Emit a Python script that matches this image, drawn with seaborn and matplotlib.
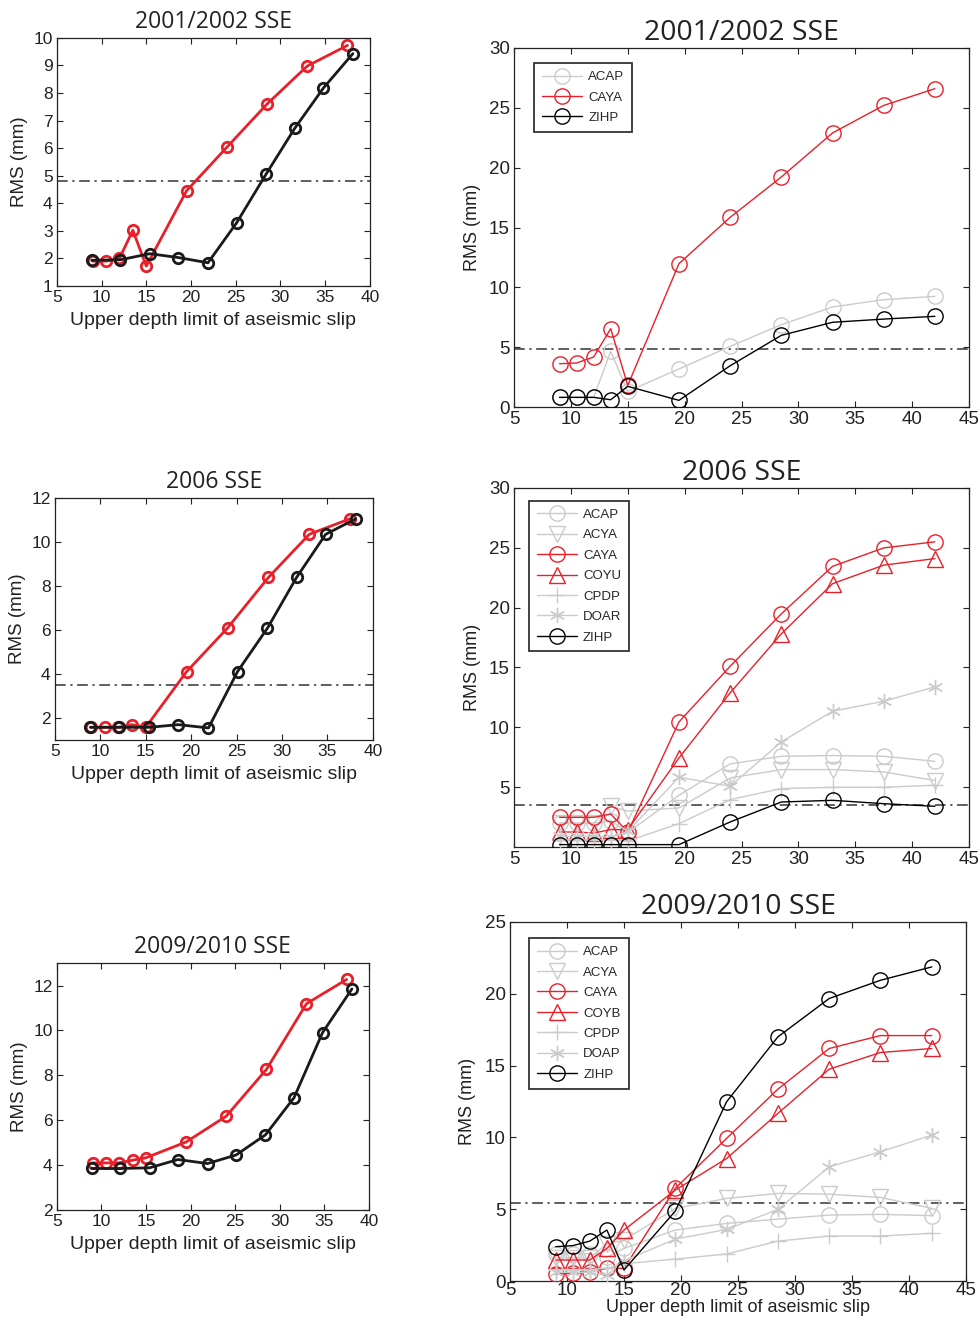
import matplotlib
matplotlib.use("Agg")
import matplotlib.pyplot as plt
import seaborn as sns

# depths (km) of the upper limit of aseismic slip
x_red = [9, 10.5, 12, 13.5, 15, 19.5, 24, 28.5, 33, 37.5]
x_black = [8.9, 12.1, 15.4, 18.6, 21.9, 25.1, 28.4, 31.6, 34.8, 38.1]
x_sta = [9, 10.5, 12, 13.5, 15, 19.5, 24, 28.5, 33, 37.5, 42]

# left column: total RMS (two slip models)
rms01_red = [1.9, 1.9, 2.0, 3.02, 1.72, 4.45, 6.03, 7.6, 8.98, 9.73]
rms01_black = [1.93, 1.95, 2.17, 2.03, 1.84, 3.29, 5.06, 6.72, 8.18, 9.43]
rms06_red = [1.58, 1.58, 1.58, 1.7, 1.58, 4.11, 6.09, 8.39, 10.35, 11.06]
rms06_black = [1.58, 1.58, 1.58, 1.7, 1.55, 4.11, 6.09, 8.39, 10.35, 11.05]
rms09_red = [4.1, 4.1, 4.1, 4.22, 4.33, 5.03, 6.18, 8.26, 11.19, 12.27]
rms09_black = [3.85, 3.85, 3.88, 4.25, 4.07, 4.45, 5.35, 7.0, 9.9, 11.85]
thr01, thr06 = 4.82, 3.5

# right column: RMS per station
sta01 = ["ACAP", "CAYA", "ZIHP"]
acap01 = [0.8, 0.8, 0.8, 4.65, 1.31, 3.18, 5.07, 6.88, 8.36, 8.97, 9.25]
caya01 = [3.62, 3.68, 4.18, 6.55, 1.81, 11.98, 15.85, 19.22, 22.9, 25.2, 26.6]
zihp01 = [0.81, 0.81, 0.81, 0.61, 1.73, 0.56, 3.45, 5.99, 7.08, 7.35, 7.58]

sta06 = ["ACAP", "ACYA", "CAYA", "COYU", "CPDP", "DOAR", "ZIHP"]
acap06 = [2.0, 2.0, 2.0, 2.2, 1.2, 4.32, 6.94, 7.58, 7.64, 7.58, 7.16]
acya06 = [2.0, 2.0, 2.0, 3.4, 3.0, 3.26, 5.77, 6.47, 6.47, 6.27, 5.55]
caya06 = [2.48, 2.48, 2.48, 2.76, 1.25, 10.45, 15.1, 19.48, 23.45, 24.99, 25.5]
coyu06 = [1.25, 1.25, 1.17, 1.45, 1.45, 7.44, 12.88, 17.81, 22.0, 23.55, 24.1]
cpdp06 = [0.6, 0.6, 0.6, 0.6, 0.5, 1.95, 3.96, 4.88, 4.99, 4.99, 5.16]
doar06 = [0.9, 0.9, 0.9, 0.8, 1.3, 5.83, 5.07, 8.78, 11.34, 12.18, 13.38]
zihp06 = [0.2, 0.2, 0.2, 0.2, 0.2, 0.2, 2.09, 3.76, 3.9, 3.62, 3.4]

sta09 = ["ACAP", "ACYA", "CAYA", "COYB", "CPDP", "DOAP", "ZIHP"]
acap09 = [1.9, 1.9, 1.9, 1.65, 2.27, 3.55, 4.01, 4.31, 4.59, 4.64, 4.55]
acya09 = [1.6, 1.6, 1.6, 2.6, 2.85, 5.05, 5.75, 6.1, 6.05, 5.82, 5.06]
caya09 = [0.49, 0.53, 0.65, 0.88, 0.88, 6.45, 9.93, 13.36, 16.19, 17.09, 17.09]
coyb09 = [1.46, 1.46, 1.46, 2.27, 3.55, 6.33, 8.53, 11.67, 14.75, 15.91, 16.19]
cpdp09 = [0.8, 0.8, 0.8, 0.9, 1.2, 1.53, 1.88, 2.78, 3.13, 3.13, 3.32]
doap09 = [0.6, 0.6, 0.6, 0.4, 1.4, 2.92, 3.59, 4.99, 7.95, 9.0, 10.16]
zihp09 = [2.39, 2.46, 2.78, 3.55, 0.77, 4.87, 12.48, 17.0, 19.67, 20.94, 21.87]
thr09 = 5.45

RED = "#e8202a"
GREY = "#cbcbcb"
ASTER = (6, 2, 0)

sns.set_style("ticks")
plt.rcParams["font.family"] = ["Liberation Sans", "DejaVu Sans"]

fig = plt.figure(figsize=(9.8, 13.22), dpi=100)


def style_axes(ax, tick_size):
    ax.tick_params(direction="in", top=True, right=True, length=4, width=0.8,
                   labelsize=tick_size, pad=3, colors="#222222", labelcolor="#222222")
    for sp in ax.spines.values():
        sp.set_linewidth(0.9)
        sp.set_color("#222222")


def threshold(ax, y):
    ax.axhline(y, color="#333333", lw=1.1, ls=(0, (7, 3, 1.5, 3)), zorder=1)


# ---- left column ----
left_panels = [
    ([0.058, 0.7837, 0.3194, 0.1876], "2001/2002 SSE", rms01_red, rms01_black,
     (1, 10), range(1, 11), thr01),
    ([0.056, 0.4402, 0.3245, 0.1831], "2006 SSE", rms06_red, rms06_black,
     (1, 12), range(2, 13, 2), thr06),
    ([0.058, 0.0847, 0.3184, 0.1868], "2009/2010 SSE", rms09_red, rms09_black,
     (2, 13), range(2, 13, 2), None),
]
for rect, title, red, black, ylim, yt, thr in left_panels:
    ax = fig.add_axes(rect)
    if thr is not None:
        threshold(ax, thr)
    sns.lineplot(x=x_red, y=red, ax=ax, color=RED, lw=2.0, marker="o", ms=7.5,
                 mfc="none", markeredgecolor=RED, markeredgewidth=2.0, zorder=3)
    sns.lineplot(x=x_black, y=black, ax=ax, color="#1a1a1a", lw=2.0, marker="o", ms=7.5,
                 mfc="none", markeredgecolor="#1a1a1a", markeredgewidth=2.0, zorder=4)
    ax.set_xlim(5, 40)
    ax.set_ylim(*ylim)
    ax.set_xticks(range(5, 41, 5))
    ax.set_yticks(list(yt))
    ax.set_title(title, fontsize=16.5, family="Open Sans", color="#222222", pad=7)
    ax.set_ylabel("RMS (mm)", fontsize=13.5, color="#222222", labelpad=4)
    ax.set_xlabel("Upper depth limit of aseismic slip", fontsize=14,
                  color="#222222", labelpad=5)
    style_axes(ax, 12.5)

# ---- right column ----
right_panels = [
    ([0.5245, 0.6921, 0.4643, 0.2716], "2001/2002 SSE",
     list(zip(sta01, [acap01, caya01, zihp01],
              [GREY, RED, "k"], ["o", "o", "o"])),
     (0, 30), range(0, 31, 5), thr01, (0.044, 0.958), False),
    ([0.5245, 0.3593, 0.4643, 0.2716], "2006 SSE",
     list(zip(sta06, [acap06, acya06, caya06, coyu06, cpdp06, doar06, zihp06],
              [GREY, GREY, RED, RED, GREY, GREY, "k"],
              ["o", "v", "o", "^", "+", ASTER, "o"])),
     (0, 30), range(5, 31, 5), 3.48, (0.033, 0.964), False),
    ([0.5204, 0.031, 0.4653, 0.2716], "2009/2010 SSE",
     list(zip(sta09, [acap09, acya09, caya09, coyb09, cpdp09, doap09, zihp09],
              [GREY, GREY, RED, RED, GREY, GREY, "k"],
              ["o", "v", "o", "^", "+", ASTER, "o"])),
     (0, 25), range(0, 26, 5), thr09, (0.042, 0.955), True),
]
for rect, title, series, ylim, yt, thr, lpos, xlab in right_panels:
    ax = fig.add_axes(rect)
    threshold(ax, thr)
    for i, (name, vals, col, mk) in enumerate(series):
        sns.lineplot(x=x_sta, y=vals, ax=ax, color=col, lw=1.0, marker=mk, ms=11,
                     mfc="none", markeredgecolor=col, markeredgewidth=1.0,
                     label=name, legend=False, zorder=2 + i)
    ax.set_xlim(5, 45)
    ax.set_ylim(*ylim)
    ax.set_xticks(range(5, 46, 5))
    ax.set_yticks(list(yt))
    ax.set_title(title, fontsize=20.5, family="Open Sans", color="#222222", pad=6)
    ax.set_ylabel("RMS (mm)", fontsize=13, color="#222222", labelpad=6)
    style_axes(ax, 13.5)
    if xlab:
        ax.tick_params(axis="x", pad=1)
        ax.set_xlabel("Upper depth limit of aseismic slip", fontsize=13,
                      color="#222222", labelpad=0)
    h, l = ax.get_legend_handles_labels()
    leg = ax.legend(h, l, loc="upper left", bbox_to_anchor=lpos, borderaxespad=0,
                    fontsize=9.5, frameon=True, fancybox=False, handlelength=3.0,
                    labelspacing=0.62, borderpad=0.6, handletextpad=0.5)
    leg.get_frame().set_edgecolor("k")
    leg.get_frame().set_linewidth(1.3)

fig.savefig("out.png", dpi=100)
